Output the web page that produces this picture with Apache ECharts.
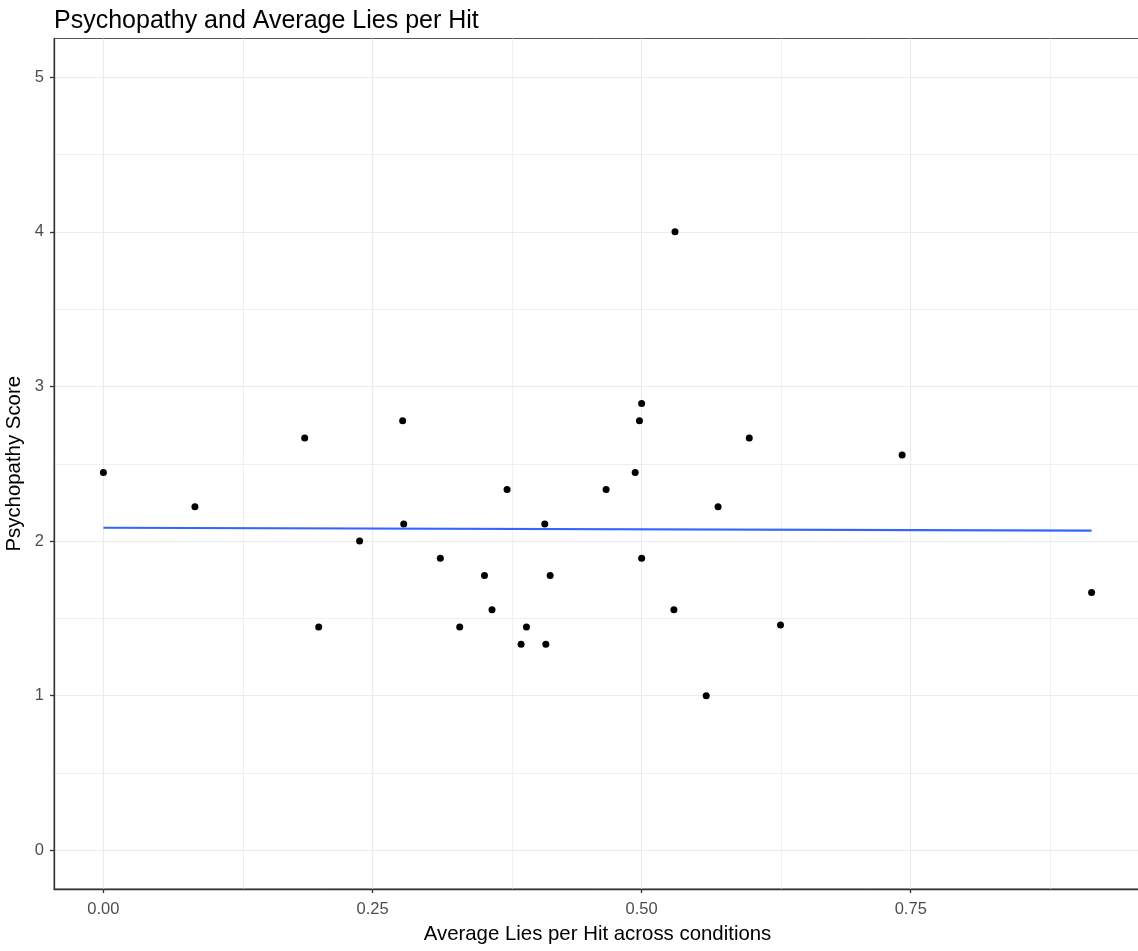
<!DOCTYPE html>
<html>
<head>
<meta charset="utf-8">
<title>Psychopathy and Average Lies per Hit</title>
<script src="https://cdn.jsdelivr.net/npm/echarts@6/dist/echarts.min.js"></script>
<style>
  html, body { margin: 0; padding: 0; background: #fff; }
  #chart { width: 1138px; height: 951px; overflow: hidden; }
</style>
</head>
<body>
<div id="chart"></div>
<script>
// Average lies per hit (x) and psychopathy score (y), one entry per participant
const liesPerHit = [
  0.000, 0.085, 0.187, 0.200, 0.238, 0.278, 0.279, 0.313, 0.331, 0.354,
  0.361, 0.375, 0.388, 0.393, 0.410, 0.411, 0.415, 0.467, 0.494, 0.498,
  0.500, 0.500, 0.530, 0.531, 0.560, 0.571, 0.600, 0.629, 0.742, 0.918
];
const psychopathy = [
  2.444, 2.222, 2.667, 1.444, 2.000, 2.778, 2.111, 1.889, 1.444, 1.778,
  1.556, 2.333, 1.333, 1.444, 2.111, 1.333, 1.778, 2.333, 2.444, 2.778,
  2.889, 1.889, 1.556, 4.000, 1.000, 2.222, 2.667, 1.458, 2.556, 1.667
];
// Linear fit evaluated at the ends of the observed x range
const fitX = [0.000, 0.918];
const fitY = [2.086, 2.068];

// Major ticks and the minor grid lines halfway between them
const xTicks = [0, 0.25, 0.5, 0.75];
const yTicks = [0, 1, 2, 3, 4, 5];
const xMinor = [0.125, 0.375, 0.625, 0.875];
const yMinor = [0.5, 1.5, 2.5, 3.5, 4.5];

const points = liesPerHit.map((x, i) => [x, psychopathy[i]]);
const fitLine = fitX.map((x, i) => [x, fitY[i]]);

const chart = echarts.init(document.getElementById('chart'), null, { renderer: 'canvas' });
const font = 'Liberation Sans, Arial, Helvetica, sans-serif';

const axisCommon = {
  type: 'value',
  nameLocation: 'middle',
  nameTextStyle: { fontFamily: font, fontSize: 20.4, color: '#000000' },
  axisLine: { show: true, onZero: false, lineStyle: { color: '#333333', width: 1.3 } },
  splitLine: { show: true, lineStyle: { color: '#ebebeb', width: 1.2 } },
  z: 2
};

chart.setOption({
  animation: false,
  backgroundColor: '#ffffff',
  title: {
    text: 'Psychopathy and Average Lies per Hit',
    left: 49,
    top: 4,
    textStyle: { fontFamily: font, fontSize: 25, fontWeight: 'normal', color: '#000000' }
  },
  grid: {
    // the panel runs a few pixels past the right edge of the page
    left: 54, top: 38.5, right: -3, bottom: 62,
    containLabel: false,
    outerBoundsMode: 'none',
    show: true, borderColor: '#555555', borderWidth: 1, backgroundColor: '#ffffff'
  },
  xAxis: Object.assign({}, axisCommon, {
    min: -0.0459,
    max: 0.9639,
    name: 'Average Lies per Hit across conditions',
    nameGap: 35,
    axisTick: { show: true, length: 4, customValues: xTicks, lineStyle: { color: '#333333', width: 1.3 } },
    axisLabel: {
      margin: 12, fontFamily: font, fontSize: 16.5, color: '#4d4d4d',
      customValues: xTicks,
      formatter: v => Number(v).toFixed(2)
    }
  }),
  yAxis: Object.assign({}, axisCommon, {
    min: -0.25,
    max: 5.25,
    name: 'Psychopathy Score',
    nameGap: 24,
    nameRotate: 90,
    axisTick: { show: true, length: 4, customValues: yTicks, lineStyle: { color: '#333333', width: 1.3 } },
    axisLabel: {
      margin: 10, fontFamily: font, fontSize: 16.5, color: '#4d4d4d',
      customValues: yTicks,
      formatter: v => String(v)
    }
  }),
  series: [
    {
      // minor grid lines
      type: 'scatter',
      data: [],
      silent: true,
      z: 0,
      markLine: {
        silent: true,
        z: 0,
        symbol: 'none',
        animation: false,
        label: { show: false },
        lineStyle: { color: '#f0f0f0', width: 1, type: 'solid' },
        emphasis: { disabled: true },
        data: xMinor.map(v => ({ xAxis: v })).concat(yMinor.map(v => ({ yAxis: v })))
      }
    },
    {
      type: 'scatter',
      data: points,
      symbol: 'circle',
      symbolSize: 7,
      itemStyle: { color: '#000000', opacity: 1 },
      z: 3
    },
    {
      type: 'line',
      data: fitLine,
      showSymbol: false,
      symbol: 'none',
      lineStyle: { color: '#3366ff', width: 2.2 },
      z: 4
    }
  ]
});
</script>
</body>
</html>
